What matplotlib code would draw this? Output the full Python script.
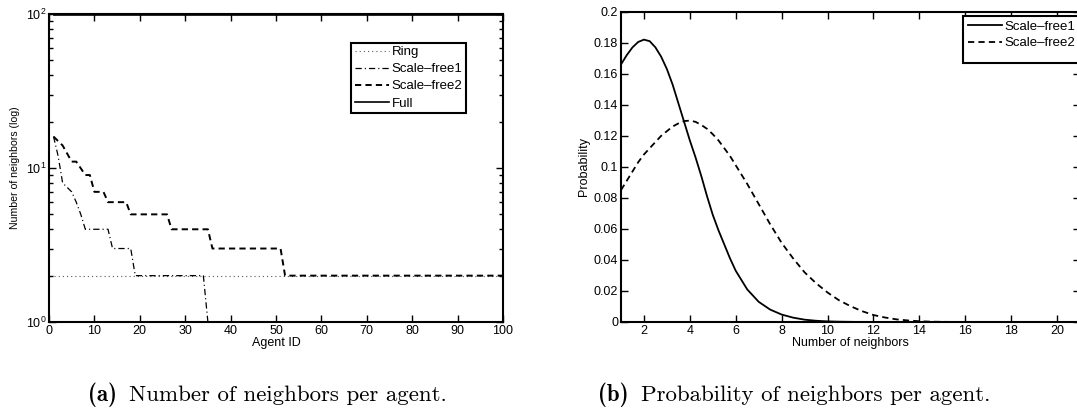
import matplotlib
matplotlib.use("Agg")
import matplotlib.pyplot as plt
from matplotlib.patches import Rectangle
from matplotlib.ticker import LogLocator, FixedLocator, NullFormatter

plt.rcParams["font.family"] = ["Liberation Sans", "DejaVu Sans"]
plt.rcParams["lines.scale_dashes"] = False
plt.rcParams["axes.linewidth"] = 1.5

# ---- (a) neighbours per agent -------------------------------------------
agent_first, agent_last = 1, 100
ring_degree = 2
full_degree = 99
sf1_ids = [1, 2, 3, 5, 6, 7, 8, 13, 14, 18, 19, 34, 35, 100]
sf1_deg = [16, 12, 8, 7, 6, 5, 4, 4, 3, 3, 2, 2, 1, 1]
sf2_ids = [1, 3, 5, 6, 8, 9, 10, 12, 13, 17, 18, 26, 27, 35, 36, 51, 52, 100]
sf2_deg = [16, 14, 11, 11, 9, 9, 7, 7, 6, 6, 5, 5, 4, 4, 3, 3, 2, 2]
labels_a = ["Ring", "Scale\u2013free1", "Scale\u2013free2", "Full"]

# ---- (b) degree distributions -------------------------------------------
nb_x = [1.0, 1.25, 1.5, 1.75, 2.0, 2.25, 2.5, 2.75, 3.0, 3.25, 3.5, 3.75,
        4.0, 4.25, 4.5, 4.75, 5.0, 5.25, 5.5, 5.75, 6.0,
        6.5, 7.0, 7.5, 8.0, 8.5, 9.0, 9.5, 10.0, 10.5, 11.0, 11.5, 12.0,
        12.5, 13.0, 13.5, 14.0, 14.5, 15.0,
        16, 17, 18, 19, 20, 21]
sf1_prob = [0.166, 0.172, 0.177, 0.1805, 0.182, 0.181, 0.177, 0.171, 0.163,
            0.153, 0.141, 0.129, 0.117, 0.106, 0.094, 0.081, 0.069, 0.059,
            0.050, 0.041, 0.033,
            0.021, 0.013, 0.008, 0.0048, 0.0028, 0.0015, 0.0008, 0.0004,
            0.0002, 0.0001, 0, 0, 0, 0, 0, 0, 0, 0,
            0, 0, 0, 0, 0, 0]
sf2_prob = [0.085, 0.091, 0.097, 0.103, 0.108, 0.112, 0.116, 0.120, 0.123,
            0.126, 0.128, 0.1295, 0.1298, 0.129, 0.127, 0.1245, 0.121, 0.117,
            0.112, 0.107, 0.101,
            0.089, 0.076, 0.063, 0.051, 0.041, 0.032, 0.025, 0.019, 0.014,
            0.0102, 0.007, 0.0045, 0.0029, 0.0017, 0.001, 0.0005, 0.0002,
            0.0001,
            0, 0, 0, 0, 0, 0]
labels_b = ["Scale\u2013free1", "Scale\u2013free2"]

caption_tags = ["(a)", "(b)"]
caption_texts = ["Number of neighbors per agent.",
                 "Probability of neighbors per agent."]

W, H = 1077, 419
fig = plt.figure(figsize=(W / 100, H / 100), dpi=100)


def frac(x0, x1, ytop, ybot):
    return [x0 / W, 1 - ybot / H, (x1 - x0) / W, (ybot - ytop) / H]


dotted = (0, (0.8, 2.2))
dashdot = (0, (4.5, 2.2, 0.8, 2.2))
dashed = (0, (4.5, 3.0))


def style_axes(ax):
    ax.tick_params(which="both", direction="in", top=True, right=True,
                   labelsize=9, width=1.0, pad=2)
    ax.tick_params(which="major", length=5)
    ax.tick_params(which="minor", length=3)


# left panel
axa = fig.add_axes(frac(49, 503, 14, 322))
axa.plot([agent_first, agent_last], [ring_degree, ring_degree], color="0.35",
         lw=0.8, linestyle=dotted, label=labels_a[0])
axa.plot(sf1_ids, sf1_deg, color="black", lw=0.9, linestyle=dashdot,
         label=labels_a[1])
axa.plot(sf2_ids, sf2_deg, color="black", lw=1.4, linestyle=dashed,
         label=labels_a[2])
axa.plot([agent_first, agent_last], [full_degree, full_degree], color="black",
         lw=1.2, linestyle="-", label=labels_a[3])
axa.set_yscale("log")
axa.set_xlim(0, 100)
axa.set_ylim(1, 100)
axa.xaxis.set_major_locator(FixedLocator(range(0, 101, 10)))
axa.yaxis.set_major_locator(LogLocator(base=10, numticks=5))
axa.yaxis.set_minor_locator(LogLocator(base=10, subs=range(2, 10), numticks=10))
axa.yaxis.set_minor_formatter(NullFormatter())
style_axes(axa)
axa.set_xlabel("Agent ID", fontsize=9, labelpad=0)
axa.set_ylabel("Number of neighbors (log)", fontsize=7.6, labelpad=4)
lega = axa.legend(loc="upper right", bbox_to_anchor=(0.918, 0.907),
                  borderaxespad=0, fancybox=False, framealpha=1,
                  edgecolor="black", fontsize=9.5, handlelength=2.6,
                  handletextpad=0.2, labelspacing=0.37, borderpad=0.25)
lega.get_frame().set_linewidth(1.5)

# right panel
axb = fig.add_axes(frac(621, 1080, 11.7, 322))
axb.plot(nb_x, sf1_prob, color="black", lw=1.3, linestyle="-",
         label=labels_b[0])
axb.plot(nb_x, sf2_prob, color="black", lw=1.3, linestyle=dashed,
         label=labels_b[1])
axb.set_xlim(1, 21)
axb.set_ylim(0, 0.2)
axb.xaxis.set_major_locator(FixedLocator(range(2, 21, 2)))
yt = [0, 0.02, 0.04, 0.06, 0.08, 0.1, 0.12, 0.14, 0.16, 0.18, 0.2]
axb.yaxis.set_major_locator(FixedLocator(yt))
axb.set_yticklabels(["0", "0.02", "0.04", "0.06", "0.08", "0.1", "0.12",
                     "0.14", "0.16", "0.18", "0.2"])
style_axes(axb)
axb.set_xlabel("Number of neighbors", fontsize=9, labelpad=0)
axb.set_ylabel("Probability", fontsize=9, labelpad=3)
legb = axb.legend(loc="upper left", bbox_to_anchor=(0.748, 0.982),
                  borderaxespad=0, frameon=False, fontsize=9.5,
                  handlelength=2.6, handletextpad=0.2, labelspacing=0.33,
                  borderpad=0.25)
# legend frame with extra bottom padding
legb_frame = Rectangle((0.745, 0.836), 0.26, 0.150, transform=axb.transAxes,
                       facecolor="white", edgecolor="black", lw=1.5,
                       zorder=4.9, clip_on=False)
axb.add_patch(legb_frame)
legb.set_zorder(5)

# sub-figure captions: bold tag followed by roman text, centred as a unit
cap_size = 16.5
renderer = fig.canvas.get_renderer()
cap_base = 1 - 401 / H
gap_px = 12
for tag, body, xc in zip(caption_tags, caption_texts, [267, 794]):
    t_tag = fig.text(0, cap_base, tag, fontfamily="cmb10", fontsize=cap_size,
                     va="baseline")
    t_body = fig.text(0, cap_base, body, fontfamily="cmr10",
                      fontsize=cap_size, va="baseline")
    w_tag = t_tag.get_window_extent(renderer).width
    w_body = t_body.get_window_extent(renderer).width
    x0 = xc - (w_tag + gap_px + w_body) / 2
    t_tag.set_x(x0 / W)
    t_body.set_x((x0 + w_tag + gap_px) / W)

fig.savefig("out.png", dpi=100)
